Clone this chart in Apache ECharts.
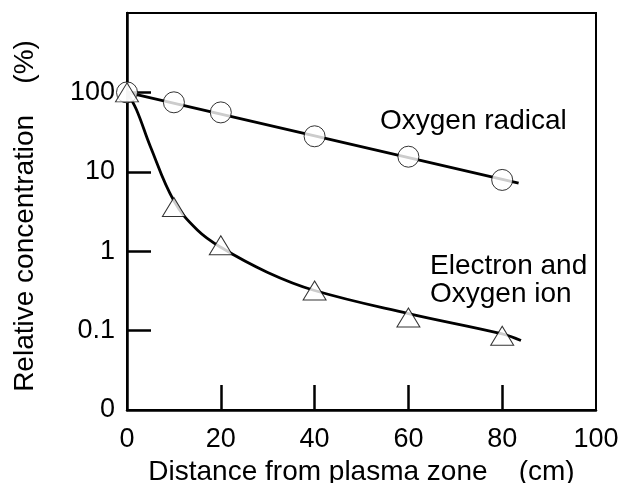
<!DOCTYPE html>
<html>
<head>
<meta charset="utf-8">
<script src="https://cdn.jsdelivr.net/npm/echarts@6/dist/echarts.min.js"></script>
<style>
    html, body { margin: 0; padding: 0; background: #fff; }
    #chart { width: 621px; height: 483px; }
</style>
</head>
<body>
<div id="chart"></div>
<script>
    // measured points
    var distance = [0, 10, 20, 40, 60, 80];
    var radical = [100, 75, 56, 28, 15.5, 7.9];
    var ion = [100, 3.6, 1.19, 0.32, 0.146, 0.086];

    // fitted curves as drawn
    var radicalFitX = [0, 83.5];
    var radicalFitY = [100, 7.2];
    var ionFitX = [0, 2, 5, 10, 15, 20, 30, 40, 60, 80, 84];
    var ionFitY = [100, 61, 20.7, 4.3, 1.85, 1.12, 0.54, 0.32, 0.164, 0.091, 0.075];

    // axis ticks
    var xTickValues = [20, 40, 60, 80];
    var yTickValues = [0.1, 1, 10, 100];
    var yLabelValues = [0.01, 0.1, 1, 10, 100];
    var yLabelTexts = ['0', '0.1', '1', '10', '100'];

    function zip(xs, ys) {
        var out = [];
        for (var i = 0; i < xs.length; i++) {
            out.push([xs[i], ys[i]]);
        }
        return out;
    }

    var font = '"Liberation Sans", Arial, Helvetica, sans-serif';
    var myChart = echarts.init(document.getElementById('chart'));

    var option = {
        backgroundColor: '#fff',
        animation: false,
        grid: {
            left: 127, right: 25, top: 13, bottom: 73,
            show: true, borderColor: '#000', borderWidth: 2,
            containLabel: false,
            outerBoundsMode: 'none'
        },
        xAxis: {
            type: 'value',
            min: 0, max: 100, interval: 20,
            axisLine: { lineStyle: { color: '#000', width: 2.5 } },
            axisTick: {
                show: true, inside: true, length: 25,
                customValues: xTickValues,
                lineStyle: { color: '#000', width: 2.5 }
            },
            axisLabel: { color: '#000', fontSize: 27, fontFamily: font, margin: 16 },
            splitLine: { show: false },
            name: 'Distance from plasma zone    (cm)',
            nameLocation: 'middle',
            nameGap: 42,
            nameTextStyle: { color: '#000', fontSize: 28, fontFamily: font }
        },
        yAxis: {
            type: 'log',
            logBase: 10,
            min: 0.01, max: 1000,
            axisLine: { lineStyle: { color: '#000', width: 2.5 } },
            axisTick: {
                show: true, inside: true, length: 24,
                customValues: yTickValues,
                lineStyle: { color: '#000', width: 2.5 }
            },
            axisLabel: {
                color: '#000', fontSize: 27, fontFamily: font, margin: 12,
                customValues: yLabelValues,
                formatter: function (v) {
                    for (var i = 0; i < yLabelValues.length; i++) {
                        if (Math.abs(Math.log10(v) - Math.log10(yLabelValues[i])) < 1e-6) {
                            return yLabelTexts[i];
                        }
                    }
                    return '';
                }
            },
            splitLine: { show: false },
            minorTick: { show: false }
        },
        graphic: [
            {
                type: 'text', x: 25, y: 216, rotation: Math.PI / 2,
                style: {
                    text: 'Relative concentration    (%)',
                    fill: '#000', font: '28px ' + font,
                    align: 'center', verticalAlign: 'middle'
                }
            },
            {
                type: 'text', x: 380, y: 121,
                style: {
                    text: 'Oxygen radical', fill: '#000', font: '28px ' + font,
                    align: 'left', verticalAlign: 'middle'
                }
            },
            {
                type: 'text', x: 430, y: 266,
                style: {
                    text: 'Electron and', fill: '#000', font: '28px ' + font,
                    align: 'left', verticalAlign: 'middle'
                }
            },
            {
                type: 'text', x: 430, y: 294,
                style: {
                    text: 'Oxygen ion', fill: '#000', font: '28px ' + font,
                    align: 'left', verticalAlign: 'middle'
                }
            }
        ],
        series: [
            {
                name: 'radical fit', type: 'line', data: zip(radicalFitX, radicalFitY),
                showSymbol: false, lineStyle: { color: '#000', width: 2.8 }, z: 2
            },
            {
                name: 'ion fit', type: 'line', data: zip(ionFitX, ionFitY), smooth: 0.4,
                showSymbol: false, lineStyle: { color: '#000', width: 2.8 }, z: 2
            },
            {
                name: 'Oxygen radical', type: 'scatter', data: zip(distance, radical),
                symbol: 'circle', symbolSize: 21,
                itemStyle: { color: '#fff', borderColor: '#000', borderWidth: 1 }, z: 3
            },
            {
                name: 'Electron and Oxygen ion', type: 'scatter', data: zip(distance, ion),
                symbol: 'triangle', symbolSize: [23, 19],
                itemStyle: { color: '#fff', borderColor: '#000', borderWidth: 1 }, z: 4
            }
        ]
    };

    myChart.setOption(option);
</script>
</body>
</html>
